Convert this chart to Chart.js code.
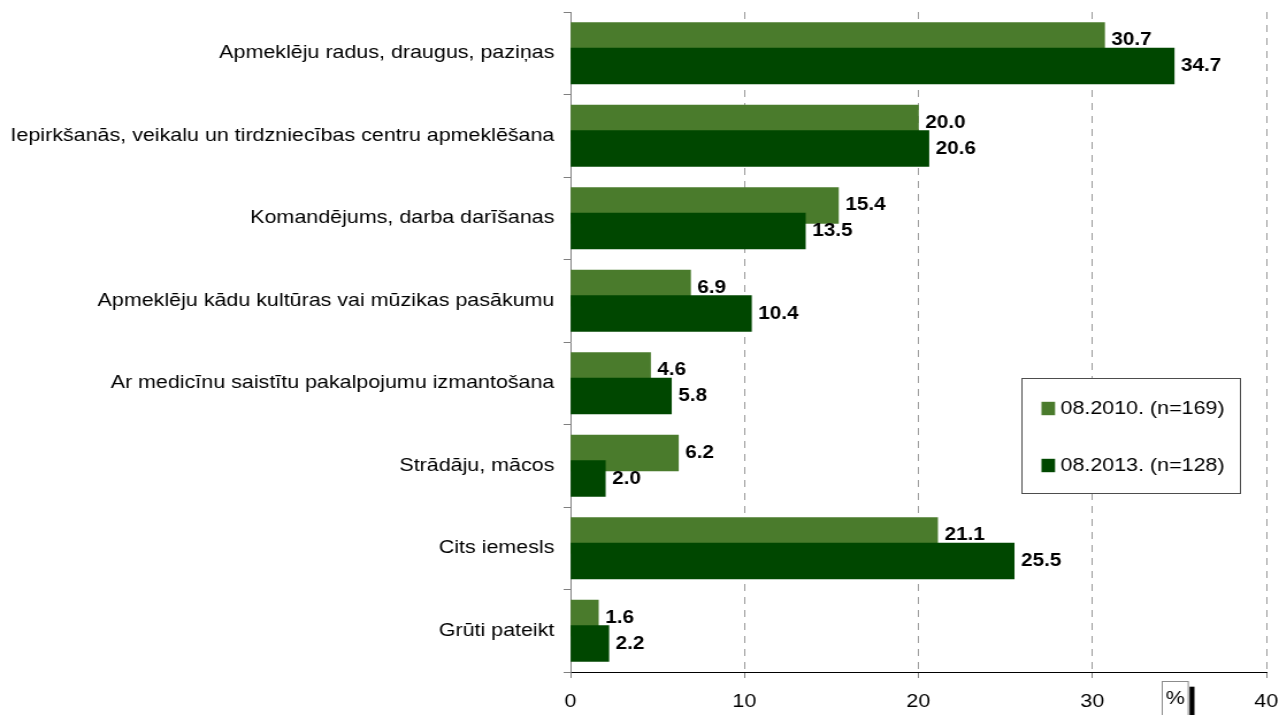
<!DOCTYPE html>
<html>
<head>
<meta charset="utf-8">
<script src="https://cdn.jsdelivr.net/npm/chart.js@4/dist/chart.umd.min.js"></script>
<style>
  html, body { margin: 0; padding: 0; background: #ffffff; overflow: hidden; }
  #chart { display: block; width: 1279px; height: 715px; }
</style>
</head>
<body>
<canvas id="chart" width="1112" height="715" style="width:1279px;height:715px;"></canvas>
<script>
// ---- data ----
const categories = [
  "Apmeklēju radus, draugus, paziņas",
  "Iepirkšanās, veikalu un tirdzniecības centru apmeklēšana",
  "Komandējums, darba darīšanas",
  "Apmeklēju kādu kultūras vai mūzikas pasākumu",
  "Ar medicīnu saistītu pakalpojumu izmantošana",
  "Strādāju, mācos",
  "Cits iemesls",
  "Grūti pateikt"
];
const series2010 = [30.7, 20.0, 15.4, 6.9, 4.6, 6.2, 21.1, 1.6];
const series2013 = [34.7, 20.6, 13.5, 10.4, 5.8, 2.0, 25.5, 2.2];
const seriesLabels = ["08.2010. (n=169)", "08.2013. (n=128)"];
const xTicks = [0, 10, 20, 30, 40];
const unitLabel = "%";

// ---- style ----
const FONT = "'Liberation Sans', Arial, Helvetica, sans-serif";
const COLOR_2010 = "#4a7b2c";
const COLOR_2013 = "#004700";
const PAIR_SHIFT = 0.155; // overlap of the two bars within a category (category units)

Chart.defaults.font.family = FONT;
Chart.defaults.color = "#000";

const toPoints = (vals, shift) => vals.map((v, i) => ({ x: v, y: i + shift }));
const noPad = (s) => { s.paddingTop = 0; s.paddingBottom = 0; s.paddingLeft = 0; s.paddingRight = 0; };

const valueLabels = {
  id: "valueLabels",
  afterDatasetsDraw(chart) {
    const ctx = chart.ctx;
    ctx.save();
    ctx.font = "bold 18px " + FONT;
    ctx.fillStyle = "#000";
    ctx.textAlign = "left";
    ctx.textBaseline = "middle";
    chart.data.datasets.forEach((ds, di) => {
      const meta = chart.getDatasetMeta(di);
      meta.data.forEach((bar, i) => {
        ctx.fillText(ds.data[i].x.toFixed(1), bar.x + 6, bar.y);
      });
    });
    ctx.restore();
  }
};

const boxLegend = {
  id: "boxLegend",
  afterDraw(chart) {
    const ctx = chart.ctx;
    const bx = 888, by = 378, bw = 190, bh = 115;
    ctx.save();
    ctx.fillStyle = "#fff";
    ctx.fillRect(bx, by, bw, bh);
    ctx.strokeStyle = "#4d4d4d";
    ctx.lineWidth = 1;
    ctx.strokeRect(bx + 0.5, by + 0.5, bw, bh);
    ctx.font = "18.67px " + FONT;
    ctx.textBaseline = "middle";
    ctx.textAlign = "left";
    const rows = [408.5, 465.5];
    chart.data.datasets.forEach((ds, di) => {
      const cy = rows[di];
      ctx.fillStyle = ds.backgroundColor;
      ctx.fillRect(905.5, cy - 6.7, 11.8, 13.4);
      ctx.fillStyle = "#000";
      ctx.fillText(ds.label, 922, cy);
    });
    // unit box at the bottom right
    ctx.strokeStyle = "#8c8c8c";
    ctx.strokeRect(1010.5, 681.5, 22.6, 40);
    ctx.fillStyle = "#000";
    ctx.textAlign = "center";
    ctx.fillText(unitLabel, 1021.8, 699);
    ctx.fillRect(1034.2, 686.7, 4.3, 30);
    ctx.restore();
  }
};

new Chart(document.getElementById("chart"), {
  type: "bar",
  data: {
    labels: categories,
    datasets: [
      {
        label: seriesLabels[0],
        data: toPoints(series2010, -PAIR_SHIFT),
        backgroundColor: COLOR_2010,
        xAxisID: "x",
        yAxisID: "yv",
        order: 1,
        grouped: false,
        barThickness: 36
      },
      {
        label: seriesLabels[1],
        data: toPoints(series2013, PAIR_SHIFT),
        backgroundColor: COLOR_2013,
        xAxisID: "x",
        yAxisID: "yv",
        order: 0,
        grouped: false,
        barThickness: 36
      }
    ]
  },
  options: {
    indexAxis: "y",
    responsive: false,
    maintainAspectRatio: false,
    devicePixelRatio: 1,
    animation: false,
    layout: { padding: { top: 12, right: 11, bottom: 0, left: 0 } },
    plugins: {
      legend: { display: false },
      tooltip: { enabled: false }
    },
    scales: {
      x: {
        type: "linear",
        position: "bottom",
        min: 0,
        max: 40,
        afterBuildTicks: (s) => { s.ticks = xTicks.map(v => ({ value: v })); },
        ticks: {
          color: "#000",
          font: { family: FONT, size: 18.67 },
          padding: 13,
          maxRotation: 0,
          autoSkip: false
        },
        grid: {
          display: true,
          drawOnChartArea: true,
          drawTicks: true,
          tickLength: 6,
          lineWidth: 1,
          color: (c) => (c.tick && c.tick.value === 0) ? "rgba(0,0,0,0)" : "#9a9a9a",
          tickColor: "#808080"
        },
        border: { display: true, color: "#000", width: 1, dash: [7, 6] },
        afterFit: (s) => { s.height = 43; noPad(s); }
      },
      y: {
        type: "category",
        position: "left",
        offset: true,
        weight: 1,
        ticks: {
          color: "#000",
          font: { family: FONT, size: 18.67 },
          padding: 8,
          autoSkip: false
        },
        grid: {
          display: true,
          offset: true,
          drawOnChartArea: false,
          drawTicks: true,
          tickLength: 6,
          color: "#808080",
          tickColor: "#808080"
        },
        border: { display: true, color: "#808080", width: 1 },
        afterFit: (s) => { s.width = 496; noPad(s); }
      },
      yv: {
        type: "linear",
        axis: "y",
        position: "left",
        weight: 0,
        display: true,
        offset: false,
        bounds: "data",
        grace: 0,
        reverse: true,
        min: -0.5,
        max: categories.length - 0.5,
        ticks: { display: false, stepSize: 1 },
        grid: { display: false, drawTicks: false, offset: false },
        border: { display: false },
        afterDataLimits: (s) => { s.min = -0.5; s.max = categories.length - 0.5; },
        afterFit: (s) => { s.width = 0; noPad(s); }
      }
    }
  },
  plugins: [valueLabels, boxLegend]
});
</script>
</body>
</html>
